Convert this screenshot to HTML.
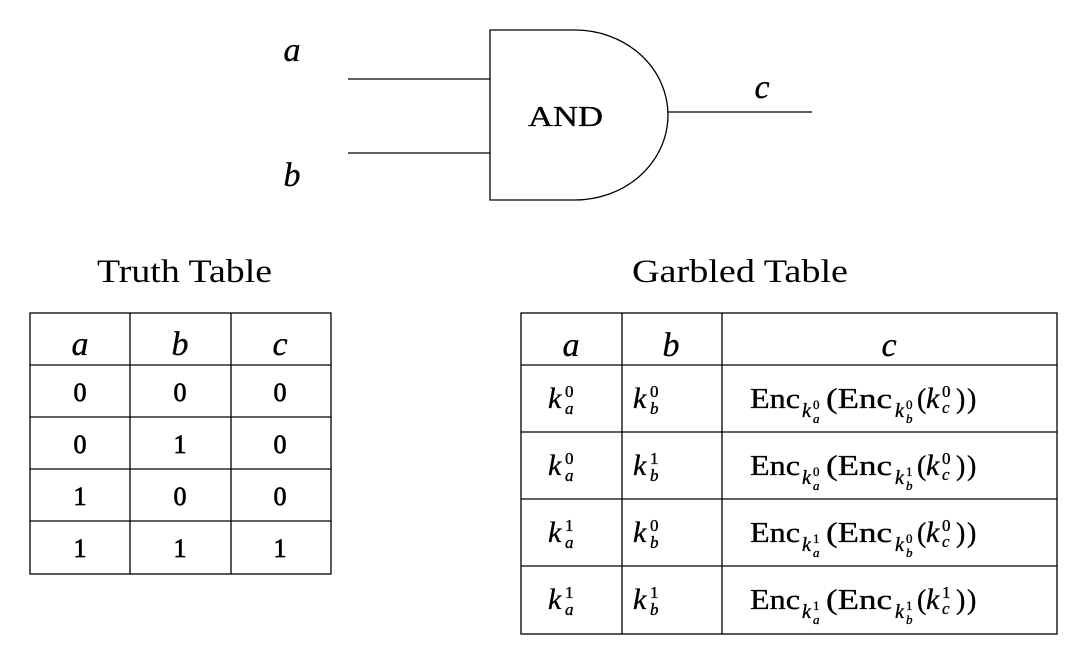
<!DOCTYPE html>
<html><head><meta charset="utf-8"><style>
html,body{margin:0;padding:0;background:#fff;width:1080px;height:650px;overflow:hidden}
svg{display:block}
text{font-family:"Liberation Serif",serif;fill:#000}
.i{font-style:italic}
.h{stroke:#000;stroke-width:0.35}
</style></head><body>
<svg width="1080" height="650" viewBox="0 0 1080 650" xmlns="http://www.w3.org/2000/svg">
<g stroke="#000" stroke-width="1.3" fill="none">
<path d="M490,30 H575 A93,85 0 0 1 575,200 H490 Z"/>
<line x1="348" y1="79" x2="490" y2="79"/>
<line x1="348" y1="153" x2="490" y2="153"/>
<line x1="668" y1="112" x2="812" y2="112"/>
<rect x="30" y="313" width="301" height="261"/>
<line x1="130" y1="313" x2="130" y2="574"/><line x1="231" y1="313" x2="231" y2="574"/>
<line x1="30" y1="365" x2="331" y2="365"/><line x1="30" y1="417" x2="331" y2="417"/>
<line x1="30" y1="469" x2="331" y2="469"/><line x1="30" y1="521" x2="331" y2="521"/>
<rect x="521" y="313" width="536" height="321"/>
<line x1="622" y1="313" x2="622" y2="634"/><line x1="722" y1="313" x2="722" y2="634"/>
<line x1="521" y1="365" x2="1057" y2="365"/><line x1="521" y1="432" x2="1057" y2="432"/>
<line x1="521" y1="499" x2="1057" y2="499"/><line x1="521" y1="566" x2="1057" y2="566"/>
</g>
<g class="h">
<text x="292" y="61" font-size="34" class="i" text-anchor="middle">a</text>
<text x="292" y="186" font-size="34" class="i" text-anchor="middle">b</text>
<text x="762" y="98" font-size="34" class="i" text-anchor="middle">c</text>
</g>
<text x="528" y="126" font-size="29" textLength="75" lengthAdjust="spacingAndGlyphs" class="h">AND</text>
<text x="97" y="282" font-size="33" textLength="175" lengthAdjust="spacingAndGlyphs">Truth Table</text>
<text x="632" y="282" font-size="33" textLength="216" lengthAdjust="spacingAndGlyphs">Garbled Table</text>
<g font-size="34" class="i h" text-anchor="middle">
<text x="80" y="355">a</text><text x="180" y="355">b</text><text x="280" y="355">c</text>
<text x="571" y="356">a</text><text x="671" y="356">b</text><text x="889" y="356">c</text>
</g>
<g font-size="26" text-anchor="middle" class="h" style="stroke-width:0.7">
<text x="80" y="401">0</text><text x="180" y="401">0</text><text x="280" y="401">0</text>
<text x="80" y="453">0</text><text x="180" y="453">1</text><text x="280" y="453">0</text>
<text x="80" y="505">1</text><text x="180" y="505">0</text><text x="280" y="505">0</text>
<text x="80" y="557">1</text><text x="180" y="557">1</text><text x="280" y="557">1</text>
</g>
<g class="h">
<g transform="translate(0,408)">
<text x="548" y="0" font-size="30" class="i">k</text><text x="565" y="-11" font-size="17">0</text><text x="565" y="6" font-size="17" class="i">a</text>
<text x="633" y="0" font-size="30" class="i">k</text><text x="650" y="-11" font-size="17">0</text><text x="650" y="6" font-size="17" class="i">b</text>
<text x="750" y="0" font-size="28" textLength="50" lengthAdjust="spacingAndGlyphs">Enc</text>
<text x="802" y="9" font-size="20" class="i">k</text><text x="813" y="1" font-size="13">0</text><text x="813" y="15" font-size="13" class="i">a</text>
<text x="826" y="0" font-size="28" textLength="66" lengthAdjust="spacingAndGlyphs">(Enc</text>
<text x="895" y="9" font-size="20" class="i">k</text><text x="906" y="1" font-size="13">0</text><text x="906" y="15" font-size="13" class="i">b</text>
<text x="917" y="0" font-size="28">(</text>
<text x="926" y="0" font-size="30" class="i">k</text><text x="942" y="-11" font-size="17">0</text><text x="942" y="5" font-size="17" class="i">c</text>
<text x="956" y="0" font-size="28">)</text><text x="967" y="0" font-size="28">)</text>
</g>
<g transform="translate(0,475)">
<text x="548" y="0" font-size="30" class="i">k</text><text x="565" y="-11" font-size="17">0</text><text x="565" y="6" font-size="17" class="i">a</text>
<text x="633" y="0" font-size="30" class="i">k</text><text x="650" y="-11" font-size="17">1</text><text x="650" y="6" font-size="17" class="i">b</text>
<text x="750" y="0" font-size="28" textLength="50" lengthAdjust="spacingAndGlyphs">Enc</text>
<text x="802" y="9" font-size="20" class="i">k</text><text x="813" y="1" font-size="13">0</text><text x="813" y="15" font-size="13" class="i">a</text>
<text x="826" y="0" font-size="28" textLength="66" lengthAdjust="spacingAndGlyphs">(Enc</text>
<text x="895" y="9" font-size="20" class="i">k</text><text x="906" y="1" font-size="13">1</text><text x="906" y="15" font-size="13" class="i">b</text>
<text x="917" y="0" font-size="28">(</text>
<text x="926" y="0" font-size="30" class="i">k</text><text x="942" y="-11" font-size="17">0</text><text x="942" y="5" font-size="17" class="i">c</text>
<text x="956" y="0" font-size="28">)</text><text x="967" y="0" font-size="28">)</text>
</g>
<g transform="translate(0,542)">
<text x="548" y="0" font-size="30" class="i">k</text><text x="565" y="-11" font-size="17">1</text><text x="565" y="6" font-size="17" class="i">a</text>
<text x="633" y="0" font-size="30" class="i">k</text><text x="650" y="-11" font-size="17">0</text><text x="650" y="6" font-size="17" class="i">b</text>
<text x="750" y="0" font-size="28" textLength="50" lengthAdjust="spacingAndGlyphs">Enc</text>
<text x="802" y="9" font-size="20" class="i">k</text><text x="813" y="1" font-size="13">1</text><text x="813" y="15" font-size="13" class="i">a</text>
<text x="826" y="0" font-size="28" textLength="66" lengthAdjust="spacingAndGlyphs">(Enc</text>
<text x="895" y="9" font-size="20" class="i">k</text><text x="906" y="1" font-size="13">0</text><text x="906" y="15" font-size="13" class="i">b</text>
<text x="917" y="0" font-size="28">(</text>
<text x="926" y="0" font-size="30" class="i">k</text><text x="942" y="-11" font-size="17">0</text><text x="942" y="5" font-size="17" class="i">c</text>
<text x="956" y="0" font-size="28">)</text><text x="967" y="0" font-size="28">)</text>
</g>
<g transform="translate(0,609)">
<text x="548" y="0" font-size="30" class="i">k</text><text x="565" y="-11" font-size="17">1</text><text x="565" y="6" font-size="17" class="i">a</text>
<text x="633" y="0" font-size="30" class="i">k</text><text x="650" y="-11" font-size="17">1</text><text x="650" y="6" font-size="17" class="i">b</text>
<text x="750" y="0" font-size="28" textLength="50" lengthAdjust="spacingAndGlyphs">Enc</text>
<text x="802" y="9" font-size="20" class="i">k</text><text x="813" y="1" font-size="13">1</text><text x="813" y="15" font-size="13" class="i">a</text>
<text x="826" y="0" font-size="28" textLength="66" lengthAdjust="spacingAndGlyphs">(Enc</text>
<text x="895" y="9" font-size="20" class="i">k</text><text x="906" y="1" font-size="13">1</text><text x="906" y="15" font-size="13" class="i">b</text>
<text x="917" y="0" font-size="28">(</text>
<text x="926" y="0" font-size="30" class="i">k</text><text x="942" y="-11" font-size="17">1</text><text x="942" y="5" font-size="17" class="i">c</text>
<text x="956" y="0" font-size="28">)</text><text x="967" y="0" font-size="28">)</text>
</g>
</g>
</svg>
</body></html>
